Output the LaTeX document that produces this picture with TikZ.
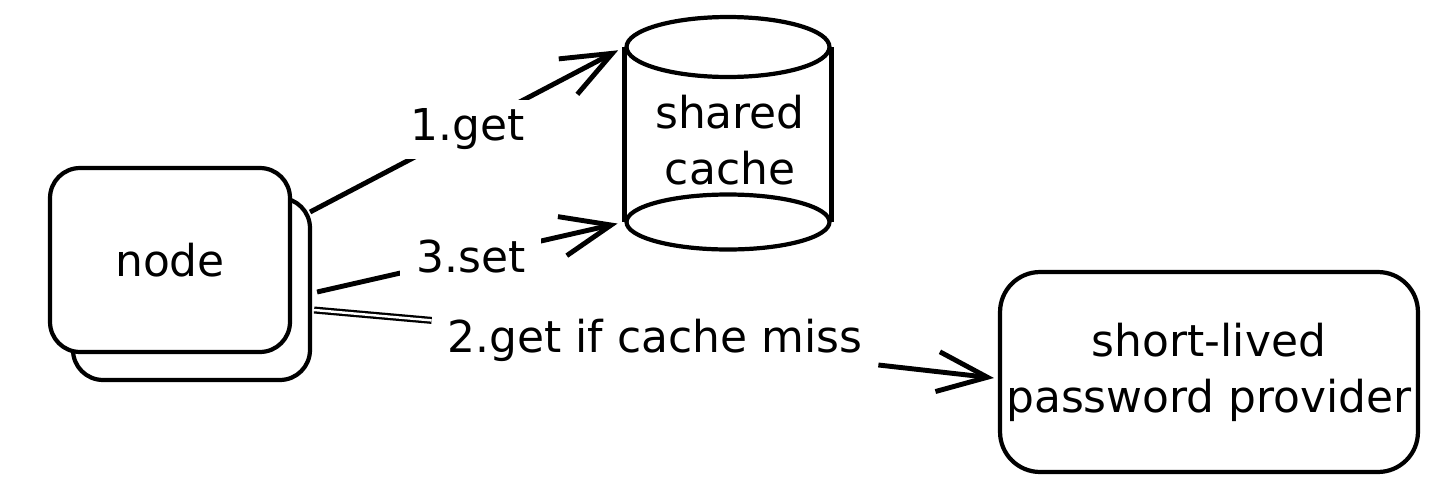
\documentclass[tikz,border=0pt]{standalone}
\usepackage{fontspec}
\setmainfont{DejaVu Sans}
\usepackage{tikz}
\usetikzlibrary{arrows.meta,shapes.geometric,calc}

\tikzset{
    box/.style={draw, line width=2.4pt, fill=white, rounded corners=0.6cm},
    txt/.style={font=\fontsize{25}{32}\selectfont, align=center},
    lbl/.style={font=\fontsize{25}{32}\selectfont, fill=white, inner xsep=9pt, inner ysep=5pt},
    link/.style={line width=2.8pt, -{Straight Barb[length=1cm, width=0.8cm, line width=2.8pt]}},
    dblline/.style={double, line width=1.3pt, double distance=1.4pt}
}

\begin{document}
\begin{tikzpicture}[x=0.02cm, y=-0.02cm]
    \useasboundingbox (0,0) rectangle (1454,494);

    % Node (stacked)
    \node[box, minimum width=4.74cm, minimum height=3.64cm] (nodeback) at (191.5,289) {};
    \node[box, txt, minimum width=4.8cm, minimum height=3.68cm] (nodefront) at (170,260) {node};

    % Shared cache
    \node[ellipse, draw, line width=2.4pt, minimum width=4.06cm, minimum height=1.2cm] (captop) at (728,47) {};
    \node[ellipse, draw, line width=2.4pt, minimum width=4.06cm, minimum height=1.1cm] (capbot) at (728,222) {};
    \draw[line width=2.4pt] (captop.west) -- (capbot.west);
    \draw[line width=2.4pt] (captop.east) -- (capbot.east);
    \node[txt] (cache) at (730,140) {shared\\cache};

    % Provider
    \node[box, txt, minimum width=8.36cm, minimum height=4cm, rounded corners=0.8cm] (provider) at (1209,372) {short-lived\\password provider};

    % Arrows
    \draw[link, shorten >=4pt] ($(nodeback.east)+(-2,-77)$) -- node[lbl] (lblget) {1.get} (captop.west);
    \draw[link, shorten >=4pt] ($(nodeback.east)+(5,3)$) -- node[lbl] (lblset) {3.set} (capbot.west);
    \node[lbl] (lblmiss) at (655,340) {2.get if cache miss};
    \draw[dblline] ($(nodeback.east)+(2,21)$) -- (lblmiss);
    \draw[link] (lblmiss) -- ($(provider.west)+(-4,6)$);
\end{tikzpicture}
\end{document}
